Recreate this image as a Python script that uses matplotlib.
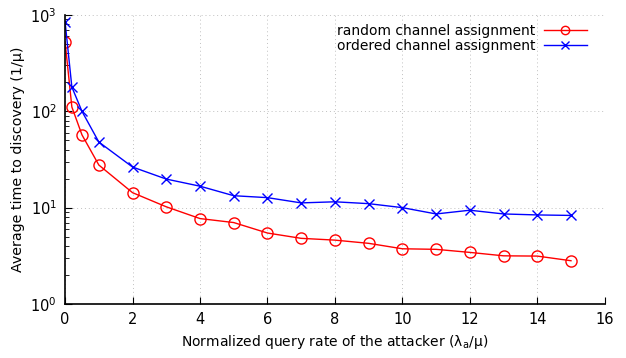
import matplotlib
matplotlib.use("Agg")
import matplotlib.pyplot as plt
from matplotlib.ticker import LogLocator, FixedLocator

x = [0, 0.2, 0.5, 1, 2, 3, 4, 5, 6, 7, 8, 9, 10, 11, 12, 13, 14, 15]
random_assign = [525, 111, 57, 27.7, 14.3, 10.2, 7.7, 7.0, 5.45, 4.8, 4.6, 4.26, 3.74, 3.69, 3.43, 3.16, 3.14, 2.81]
ordered_assign = [846, 179, 100, 48, 26.4, 19.8, 16.7, 13.3, 12.7, 11.2, 11.5, 11.0, 10.0, 8.6, 9.4, 8.6, 8.4, 8.3]
xticks = [0, 2, 4, 6, 8, 10, 12, 14, 16]

plt.rcParams['font.family'] = ['DejaVu Sans']
fig = plt.figure(figsize=(6.26, 3.58), dpi=100)
ax = fig.add_axes([0.104, 0.151, 0.862, 0.807])

ax.plot(x, random_assign, color='#ff0000', lw=1, marker='o', ms=8, mfc='none', mec='#ff0000', mew=1,
        label='random channel assignment')
ax.plot(x, ordered_assign, color='#0000ff', lw=1, marker='x', ms=7, mec='#0000ff', mew=1,
        label='ordered channel assignment')

ax.set_yscale('log')
ax.set_xlim(0, 16)
ax.set_ylim(1, 1000)
ax.xaxis.set_major_locator(FixedLocator(xticks))
ax.yaxis.set_major_locator(LogLocator(base=10, numticks=10))
ax.yaxis.set_minor_locator(LogLocator(base=10, subs=range(2, 10), numticks=10))
ax.xaxis.set_minor_locator(FixedLocator([]))

for s in ['top', 'right']:
    ax.spines[s].set_visible(False)
for s in ['left', 'bottom']:
    ax.spines[s].set_linewidth(1.2)

ax.tick_params(axis='both', which='major', direction='in', length=5, labelsize=10.5, pad=6)
ax.tick_params(axis='y', which='minor', direction='in', length=3)
ax.grid(True, which='major', linestyle=(0, (1, 3)), color='#c0c0c0', lw=0.7)

ax.set_xlabel('Normalized query rate of the attacker (λ$_\\mathregular{a}$/μ)', fontsize=10)
ax.set_ylabel('Average time to discovery (1/μ)', fontsize=10.3)

leg = ax.legend(loc='upper right', frameon=False, markerfirst=False, fontsize=10,
                handlelength=3.1, handletextpad=0.6, markerscale=0.75,
                borderaxespad=0.3, labelspacing=0.1, bbox_to_anchor=(0.985, 1.004))
for t in leg.get_texts():
    t.set_ha('right')

fig.savefig('out.png', dpi=100)
